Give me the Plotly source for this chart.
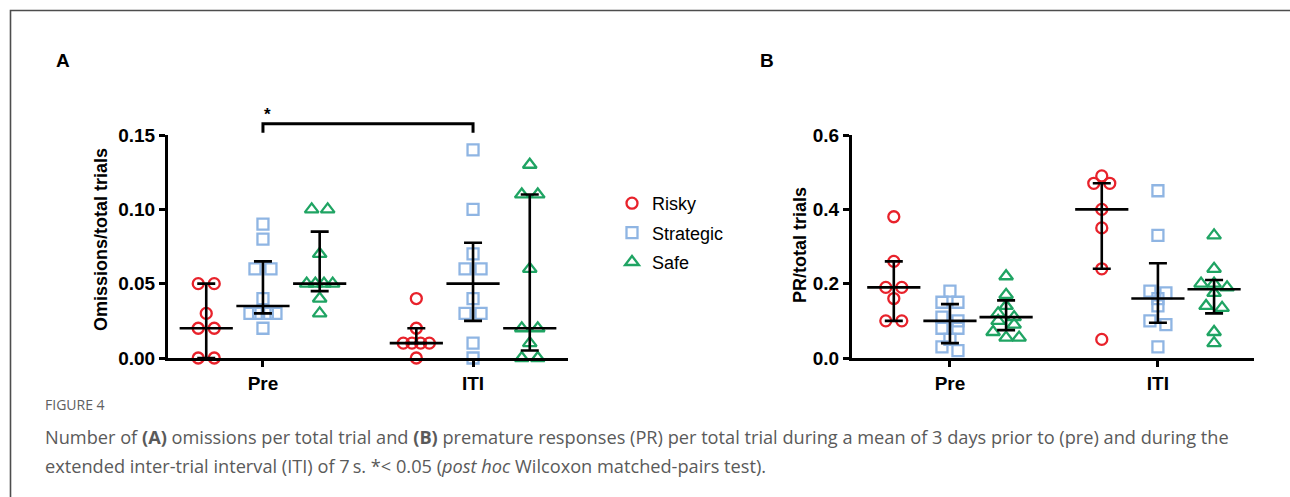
import plotly.graph_objects as go

W, H = 1290, 497

phases = ["Pre", "ITI"]
groups = ["Risky", "Strategic", "Safe"]

# ---- Panel A: omissions / total trials (individual animals) ----
omis_pre_risky = [0.05, 0.05, 0.03, 0.02, 0.02, 0.00, 0.00]
omis_pre_strategic = [0.09, 0.08, 0.06, 0.06, 0.04, 0.03, 0.03, 0.03, 0.03, 0.02]
omis_pre_safe = [0.10, 0.10, 0.07, 0.05, 0.05, 0.05, 0.05, 0.04, 0.03]
omis_iti_risky = [0.04, 0.02, 0.01, 0.01, 0.01, 0.01, 0.00]
omis_iti_strategic = [0.14, 0.10, 0.07, 0.06, 0.06, 0.04, 0.03, 0.03, 0.01, 0.00]
omis_iti_safe = [0.13, 0.11, 0.11, 0.06, 0.02, 0.02, 0.01, 0.00, 0.00]

# median and interquartile range, order: Risky, Strategic, Safe
omis_pre_median = [0.020, 0.035, 0.050]
omis_pre_q1 = [0.000, 0.030, 0.045]
omis_pre_q3 = [0.050, 0.065, 0.085]
omis_iti_median = [0.010, 0.050, 0.020]
omis_iti_q1 = [0.010, 0.025, 0.005]
omis_iti_q3 = [0.020, 0.0775, 0.110]

# ---- Panel B: premature responses / total trials ----
pr_pre_risky = [0.38, 0.26, 0.19, 0.19, 0.16, 0.10, 0.10]
pr_pre_strategic = [0.18, 0.15, 0.15, 0.11, 0.10, 0.08, 0.08, 0.05, 0.03, 0.02]
pr_pre_safe = [0.22, 0.17, 0.14, 0.12, 0.11, 0.10, 0.09, 0.07, 0.055, 0.055]
pr_iti_risky = [0.49, 0.47, 0.47, 0.40, 0.35, 0.24, 0.05]
pr_iti_strategic = [0.45, 0.33, 0.18, 0.175, 0.16, 0.14, 0.10, 0.09, 0.03]
pr_iti_safe = [0.33, 0.24, 0.20, 0.20, 0.19, 0.175, 0.14, 0.135, 0.07, 0.04]

pr_pre_median = [0.19, 0.10, 0.11]
pr_pre_q1 = [0.10, 0.04, 0.075]
pr_pre_q3 = [0.26, 0.145, 0.155]
pr_iti_median = [0.40, 0.16, 0.185]
pr_iti_q1 = [0.24, 0.095, 0.12]
pr_iti_q3 = [0.47, 0.255, 0.21]

y_ticks_a = [0.00, 0.05, 0.10, 0.15]
y_ticks_b = [0.0, 0.2, 0.4, 0.6]

colors = {"Risky": "#e8222b", "Strategic": "#8fb5e3", "Safe": "#1fa463"}
symbols = {"Risky": "circle-open", "Strategic": "square-open", "Safe": "triangle-up-open"}
msize = {"Risky": 11, "Strategic": 11, "Safe": 12}

FONT = "Liberation Sans, Arial, sans-serif"


def px(x):
    return x / W


def py(y):
    return 1 - y / H


# subplot geometry (pixels)
A_X = (168, 568)
B_X = (852, 1254)
Y_PX = (135, 358)
A_XR = [-0.452, 1.452]
B_XR = [-0.471, 1.462]
GROUP_OFF = 0.27


def swarm(values, center, ymax, xr, xpx, diam=12.0):
    """Spread points with similar values sideways, row by row."""
    y_scale = (Y_PX[1] - Y_PX[0]) / ymax
    x_scale = (xpx[1] - xpx[0]) / (xr[1] - xr[0])
    order = sorted(range(len(values)), key=lambda i: -values[i])
    rows = []
    for i in order:
        ypix = values[i] * y_scale
        if rows and abs(rows[-1][0] - ypix) < diam * 0.5:
            rows[-1][1].append(i)
        else:
            rows.append([ypix, [i]])
    xs = [0.0] * len(values)
    for _, idx in rows:
        k = len(idx)
        sp = min(16.0, 26.0 / (k - 1)) if k > 1 else 0.0
        for j, i in enumerate(idx):
            xs[i] = center + (j - (k - 1) / 2) * sp / x_scale
    return xs


fig = go.Figure()

panels = [
    dict(xa="x", ya="y", ymax=0.15, xr=A_XR, xpx=A_X,
         data={"Pre": [omis_pre_risky, omis_pre_strategic, omis_pre_safe],
               "ITI": [omis_iti_risky, omis_iti_strategic, omis_iti_safe]},
         med={"Pre": omis_pre_median, "ITI": omis_iti_median},
         q1={"Pre": omis_pre_q1, "ITI": omis_iti_q1},
         q3={"Pre": omis_pre_q3, "ITI": omis_iti_q3}, legend=True),
    dict(xa="x2", ya="y2", ymax=0.6, xr=B_XR, xpx=B_X,
         data={"Pre": [pr_pre_risky, pr_pre_strategic, pr_pre_safe],
               "ITI": [pr_iti_risky, pr_iti_strategic, pr_iti_safe]},
         med={"Pre": pr_pre_median, "ITI": pr_iti_median},
         q1={"Pre": pr_pre_q1, "ITI": pr_iti_q1},
         q3={"Pre": pr_pre_q3, "ITI": pr_iti_q3}, legend=False),
]

for p in panels:
    # individual animals
    for gi, g in enumerate(groups):
        xs, ys = [], []
        for pi, ph in enumerate(phases):
            vals = p["data"][ph][gi]
            c = pi + (gi - 1) * GROUP_OFF
            xs += swarm(vals, c, p["ymax"], p["xr"], p["xpx"])
            ys += vals
        fig.add_trace(go.Scatter(
            x=xs, y=ys, mode="markers", name=g, xaxis=p["xa"], yaxis=p["ya"],
            legendgroup=g, showlegend=p["legend"], cliponaxis=False,
            marker=dict(symbol=symbols[g], size=msize[g], color=colors[g],
                        line=dict(width=2.3, color=colors[g])),
            hoverinfo="skip"))
    # median with interquartile range
    for pi, ph in enumerate(phases):
        xs = [pi + (gi - 1) * GROUP_OFF for gi in range(3)]
        med = p["med"][ph]
        up = [q - m for q, m in zip(p["q3"][ph], med)]
        dn = [m - q for q, m in zip(p["q1"][ph], med)]
        fig.add_trace(go.Scatter(
            x=xs, y=med, mode="markers", showlegend=False,
            xaxis=p["xa"], yaxis=p["ya"], cliponaxis=False,
            marker=dict(symbol="line-ew", size=38, color="black",
                        line=dict(width=2.6, color="black")),
            error_y=dict(type="data", symmetric=False, array=up, arrayminus=dn,
                         color="black", thickness=2.6, width=9),
            hoverinfo="skip"))

axis_common = dict(showline=True, linecolor="black", linewidth=3, ticks="outside",
                   tickcolor="black", tickwidth=2.5, ticklen=6, showgrid=False,
                   zeroline=False, automargin=False,
                   tickfont=dict(family=FONT, size=19, color="black", weight="bold"))

fig.update_layout(
    width=W, height=H, margin=dict(l=0, r=0, t=0, b=0, pad=0, autoexpand=False),
    paper_bgcolor="white", plot_bgcolor="white",
    xaxis=dict(domain=[px(A_X[0]), px(A_X[1])], range=A_XR, anchor="y",
               tickvals=[0, 1], ticktext=phases, **axis_common),
    yaxis=dict(domain=[py(Y_PX[1]), py(Y_PX[0])], range=[0, 0.15], anchor="x",
               tickvals=y_ticks_a, ticktext=[f"{v:.2f}" for v in y_ticks_a], **axis_common),
    xaxis2=dict(domain=[px(B_X[0]), px(B_X[1])], range=B_XR, anchor="y2",
                tickvals=[0, 1], ticktext=phases, **axis_common),
    yaxis2=dict(domain=[py(Y_PX[1]), py(Y_PX[0])], range=[0, 0.6], anchor="x2",
                tickvals=y_ticks_b, ticktext=[f"{v:.1f}" for v in y_ticks_b], **axis_common),
    legend=dict(x=px(612), y=py(185), xanchor="left", yanchor="top",
                font=dict(family=FONT, size=18, color="black"),
                bgcolor="rgba(0,0,0,0)", traceorder="grouped", tracegroupgap=3,
                itemwidth=30),
    showlegend=True,
)


def ypaper_a(v):
    return py(Y_PX[1]) + v / 0.15 * (py(Y_PX[0]) - py(Y_PX[1]))


# significance bracket between Pre and ITI
b_top, b_foot = 0.1575, 0.1515
fig.add_shape(type="path", xref="x", yref="paper",
              path=f"M 0,{ypaper_a(b_foot)} L 0,{ypaper_a(b_top)} L 1,{ypaper_a(b_top)} L 1,{ypaper_a(b_foot)}",
              line=dict(color="black", width=3))

# outer figure frame
fig.add_shape(type="rect", xref="paper", yref="paper",
              x0=px(10.5), x1=1.2, y0=-0.2, y1=py(10.5),
              line=dict(color="#4d4d4d", width=1.6), fillcolor="rgba(0,0,0,0)")

ann = []


def text(x, y, s, size, color="black", family=FONT, weight="normal", xanchor="center",
         angle=0):
    ann.append(dict(x=px(x), y=py(y), xref="paper", yref="paper", text=s, showarrow=False,
                    xanchor=xanchor, yanchor="middle", textangle=angle,
                    font=dict(family=family, size=size, color=color, weight=weight)))


text(63, 60, "A", 19, weight="bold")
text(767, 60, "B", 19, weight="bold")
text(267, 115, "*", 17, weight="bold")
text(101, 240, "Omissions/total trials", 18, weight="bold", angle=-90)
text(800, 245, "PR/total trials", 18, weight="bold", angle=-90)

CAP = "Open Sans, Lato, sans-serif"
text(43, 404, "FIGURE 4", 14, color="#606060", family=CAP, xanchor="left")
text(43, 437, "Number of <b>(A)</b> omissions per total trial and <b>(B)</b> premature responses (PR) "
     "per total trial during a mean of 3 days prior to (pre) and during the",
     18.2, color="#5a5a5a", family=CAP, xanchor="left")
text(43, 466, "extended inter-trial interval (ITI) of 7\u2009s. *< 0.05 (<i>post hoc</i> Wilcoxon "
     "matched-pairs test).", 18.2, color="#5a5a5a", family=CAP, xanchor="left")

fig.update_layout(annotations=ann)

fig.write_html("out.html")
